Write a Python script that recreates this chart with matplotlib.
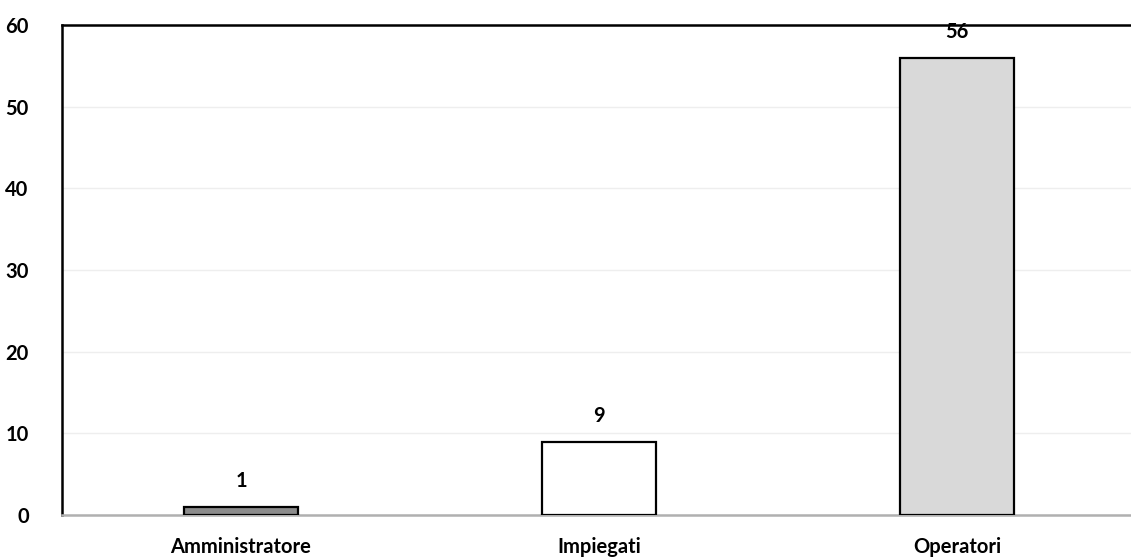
import matplotlib
matplotlib.use("Agg")
import matplotlib.pyplot as plt

categories = ["Amministratore", "Impiegati", "Operatori"]
values = [1, 9, 56]
bar_colors = ["#8c8c8c", "#ffffff", "#d9d9d9"]
yticks = [0, 10, 20, 30, 40, 50, 60]

plt.rcParams['font.family'] = ['Lato', 'DejaVu Sans']

fig = plt.figure(figsize=(11.31, 5.57), dpi=100)
ax = fig.add_axes([62/1131, 42/557, (1136-62)/1131, 490/557])

x = range(len(categories))
bars = ax.bar(x, values, width=0.316, color=bar_colors, edgecolor="black", linewidth=1.6, zorder=3)
for xi, v in zip(x, values):
    ax.text(xi, v + 1.9, str(v), ha="center", va="bottom", fontsize=14.5, fontweight="bold")

ax.set_xlim(-0.5, 2.5)
ax.set_ylim(0, 60)
ax.set_yticks(yticks)
ax.set_yticklabels([str(t) for t in yticks], fontsize=14.5, fontweight="bold")
ax.set_xticks(list(x))
ax.set_xticklabels(categories, fontsize=14.5, fontweight="bold")
ax.tick_params(axis="y", length=0, pad=24)
ax.tick_params(axis="x", length=0, pad=16)
ax.grid(axis="y", color="#eeeeee", linewidth=1, zorder=0)
ax.spines["left"].set_color("black")
ax.spines["left"].set_linewidth(1.8)
ax.spines["top"].set_color("black")
ax.spines["top"].set_linewidth(1.8)
ax.spines["bottom"].set_color("#b0b0b0")
ax.spines["bottom"].set_linewidth(1.8)
ax.spines["right"].set_visible(False)

fig.savefig("out.png", dpi=100)
